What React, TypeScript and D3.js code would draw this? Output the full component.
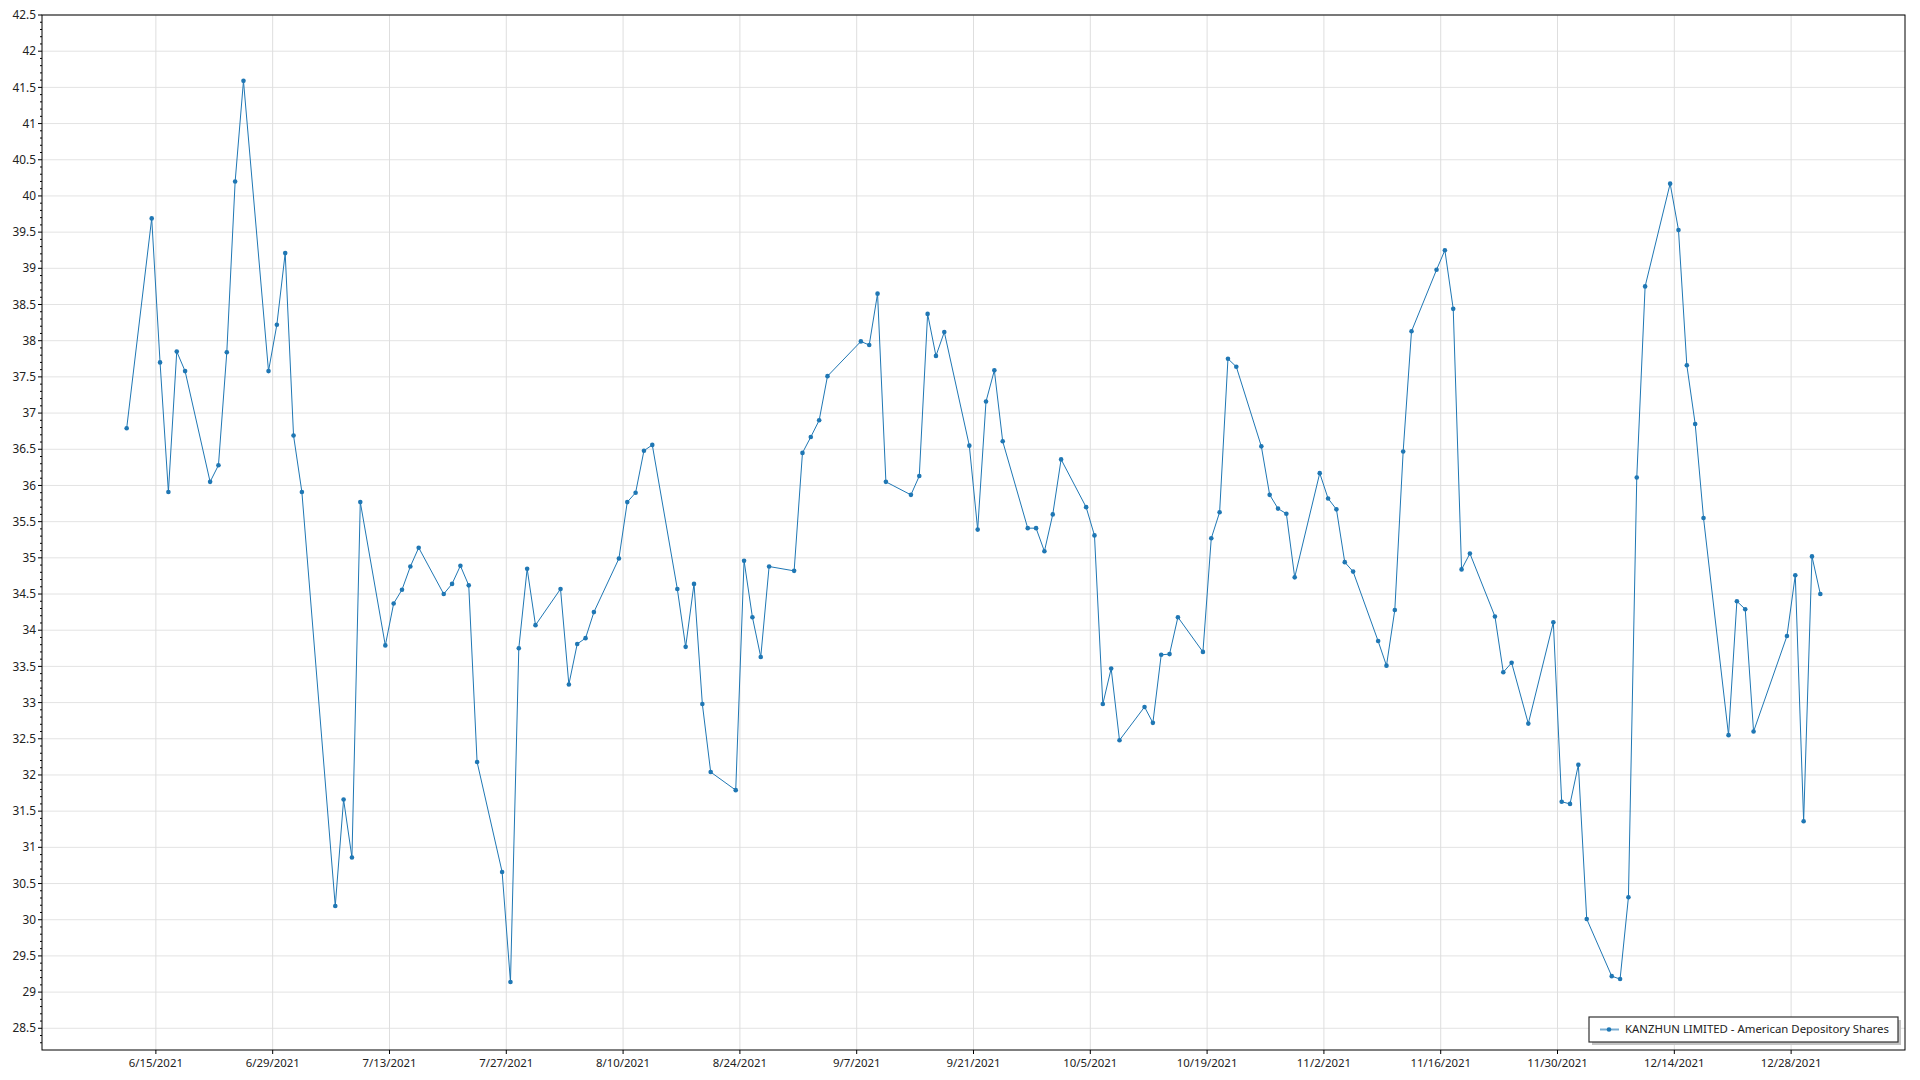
import React from "react";
import * as d3 from "d3";

const dates: string[] = [
  "2021-06-11","2021-06-14","2021-06-15","2021-06-16","2021-06-17","2021-06-18",
  "2021-06-21","2021-06-22","2021-06-23","2021-06-24","2021-06-25",
  "2021-06-28","2021-06-29","2021-06-30","2021-07-01","2021-07-02",
  "2021-07-06","2021-07-07","2021-07-08","2021-07-09",
  "2021-07-12","2021-07-13","2021-07-14","2021-07-15","2021-07-16",
  "2021-07-19","2021-07-20","2021-07-21","2021-07-22","2021-07-23",
  "2021-07-26","2021-07-27","2021-07-28","2021-07-29","2021-07-30",
  "2021-08-02","2021-08-03","2021-08-04","2021-08-05","2021-08-06",
  "2021-08-09","2021-08-10","2021-08-11","2021-08-12","2021-08-13",
  "2021-08-16","2021-08-17","2021-08-18","2021-08-19","2021-08-20",
  "2021-08-23","2021-08-24","2021-08-25","2021-08-26","2021-08-27",
  "2021-08-30","2021-08-31","2021-09-01","2021-09-02","2021-09-03",
  "2021-09-07","2021-09-08","2021-09-09","2021-09-10",
  "2021-09-13","2021-09-14","2021-09-15","2021-09-16","2021-09-17",
  "2021-09-20","2021-09-21","2021-09-22","2021-09-23","2021-09-24",
  "2021-09-27","2021-09-28","2021-09-29","2021-09-30","2021-10-01",
  "2021-10-04","2021-10-05","2021-10-06","2021-10-07","2021-10-08",
  "2021-10-11","2021-10-12","2021-10-13","2021-10-14","2021-10-15",
  "2021-10-18","2021-10-19","2021-10-20","2021-10-21","2021-10-22",
  "2021-10-25","2021-10-26","2021-10-27","2021-10-28","2021-10-29",
  "2021-11-01","2021-11-02","2021-11-03","2021-11-04","2021-11-05",
  "2021-11-08","2021-11-09","2021-11-10","2021-11-11","2021-11-12",
  "2021-11-15","2021-11-16","2021-11-17","2021-11-18","2021-11-19",
  "2021-11-22","2021-11-23","2021-11-24","2021-11-26",
  "2021-11-29","2021-11-30","2021-12-01","2021-12-02","2021-12-03",
  "2021-12-06","2021-12-07","2021-12-08","2021-12-09","2021-12-10",
  "2021-12-13","2021-12-14","2021-12-15","2021-12-16","2021-12-17",
  "2021-12-20","2021-12-21","2021-12-22","2021-12-23",
  "2021-12-27","2021-12-28","2021-12-29","2021-12-30","2021-12-31",
];

const prices: number[] = [
  36.79,39.69,37.70,35.91,37.85,37.58,
  36.05,36.28,37.84,40.20,41.59,
  37.58,38.22,39.21,36.69,35.91,
  30.19,31.66,30.86,35.77,
  33.79,34.37,34.56,34.88,35.14,
  34.50,34.64,34.89,34.62,32.18,
  30.66,29.14,33.75,34.85,34.07,
  34.57,33.25,33.81,33.89,34.25,
  34.99,35.77,35.90,36.48,36.56,
  34.57,33.77,34.64,32.98,32.04,
  31.79,34.96,34.18,33.63,34.88,
  34.82,36.45,36.67,36.90,37.51,
  37.99,37.94,38.65,36.05,
  35.87,36.13,38.37,37.79,38.12,
  36.55,35.39,37.16,37.59,36.61,
  35.41,35.41,35.09,35.60,36.36,
  35.70,35.31,32.98,33.47,32.48,
  32.94,32.72,33.66,33.67,34.18,
  33.70,35.27,35.63,37.75,37.64,
  36.54,35.87,35.68,35.61,34.73,
  36.17,35.82,35.67,34.94,34.81,
  33.85,33.51,34.28,36.47,38.13,
  38.98,39.25,38.44,34.84,35.06,
  34.19,33.42,33.55,32.71,
  34.11,31.63,31.60,32.14,30.01,
  29.22,29.18,30.31,36.11,38.75,
  40.17,39.53,37.66,36.85,35.55,
  32.55,34.40,34.29,32.60,
  33.92,34.76,31.36,35.02,34.50,
];

const xTickDates: string[] = [
  "2021-06-15","2021-06-29","2021-07-13","2021-07-27","2021-08-10","2021-08-24",
  "2021-09-07","2021-09-21","2021-10-05","2021-10-19","2021-11-02","2021-11-16",
  "2021-11-30","2021-12-14","2021-12-28",
];
const yDomain: number[] = [28.2, 42.5];
const seriesName = "KANZHUN LIMITED - American Depository Shares";

const W = 1920;
const H = 1080;
const M = { left: 42, right: 15, top: 15, bottom: 30 };
const FONT = "'Noto Sans', 'Open Sans', sans-serif";
const FS = 11.4;
const BLUE = "#1f77b4";

export default function App() {
  const parse = d3.timeParse("%Y-%m-%d");
  const data = dates.map((d, i) => ({
    t: d3.timeHour.offset(parse(d) as Date, 12),
    v: prices[i],
  }));
  const ext = d3.extent(data, (d) => d.t.getTime()) as [number, number];
  const pad = (ext[1] - ext[0]) * 0.05;
  const x = d3
    .scaleTime()
    .domain([new Date(ext[0] - pad), new Date(ext[1] + pad)])
    .range([M.left, W - M.right]);
  const y = d3.scaleLinear().domain(yDomain).range([H - M.bottom, M.top]);

  const line = d3
    .line<{ t: Date; v: number }>()
    .x((d) => x(d.t))
    .y((d) => y(d.v));

  const majorY = d3.range(28.5, 42.5001, 0.5);
  const minorY = d3.range(28.3, 42.5001, 0.1).filter(
    (v) => Math.abs(v * 2 - Math.round(v * 2)) > 1e-6
  );
  const xTicks = xTickDates.map((d) => parse(d) as Date);
  const fmt = d3.timeFormat("%-m/%-d/%Y");

  const x0 = M.left;
  const x1 = W - M.right;
  const y0 = H - M.bottom;
  const y1 = M.top;

  const legX = 1589;
  const legY = 1017;
  const legW = 309;
  const legH = 25;

  return (
    <div style={{ position: "absolute", left: 0, top: 0 }}>
      <svg width={W} height={H} style={{ display: "block", background: "#fff" }}>
        <rect x={0} y={0} width={W} height={H} fill="#fff" />
        {majorY.map((v) => (
          <line key={"gy" + v} x1={x0} x2={x1} y1={y(v)} y2={y(v)} stroke="#e3e3e3" strokeWidth={1} />
        ))}
        {xTicks.map((t) => (
          <line key={"gx" + t.getTime()} x1={x(t)} x2={x(t)} y1={y1} y2={y0} stroke="#dedede" strokeWidth={1} />
        ))}
        <rect x={x0} y={y1} width={x1 - x0} height={y0 - y1} fill="none" stroke="#000" strokeWidth={1} />
        {majorY.map((v) => (
          <g key={"ty" + v}>
            <line x1={x0 - 4} x2={x0} y1={y(v)} y2={y(v)} stroke="#000" />
            <text x={x0 - 6} y={y(v)} dy="0.35em" textAnchor="end" fontFamily={FONT} fontSize={FS + 0.4} fill="#222">
              {d3.format("")(Math.round(v * 10) / 10)}
            </text>
          </g>
        ))}
        {minorY.map((v) => (
          <line key={"my" + v} x1={x0 - 2} x2={x0} y1={y(v)} y2={y(v)} stroke="#000" />
        ))}
        {xTicks.map((t) => (
          <g key={"tx" + t.getTime()}>
            <line x1={x(t)} x2={x(t)} y1={y0} y2={y0 + 4} stroke="#000" />
            <text x={x(t)} y={y0 + 17} textAnchor="middle" fontFamily={FONT} fontSize={FS} fill="#222">
              {fmt(t)}
            </text>
          </g>
        ))}
        <path d={line(data) || ""} fill="none" stroke={BLUE} strokeWidth={1} />
        {data.map((d, i) => (
          <circle key={"p" + i} cx={x(d.t)} cy={y(d.v)} r={2.3} fill={BLUE} />
        ))}
        <rect x={legX + 3} y={legY + 3} width={legW} height={legH} fill="#c4c4c4" />
        <rect x={legX} y={legY} width={legW} height={legH} fill="#fff" stroke="#333" strokeWidth={1.2} />
        <line x1={legX + 11} x2={legX + 30} y1={legY + legH / 2} y2={legY + legH / 2} stroke={BLUE} strokeOpacity={0.6} strokeWidth={2} />
        <circle cx={legX + 20} cy={legY + legH / 2} r={2.3} fill={BLUE} />
        <text x={legX + 36} y={legY + legH / 2} dy="0.35em" fontFamily={FONT} fontSize={FS} fill="#222">
          {seriesName}
        </text>
      </svg>
    </div>
  );
}
